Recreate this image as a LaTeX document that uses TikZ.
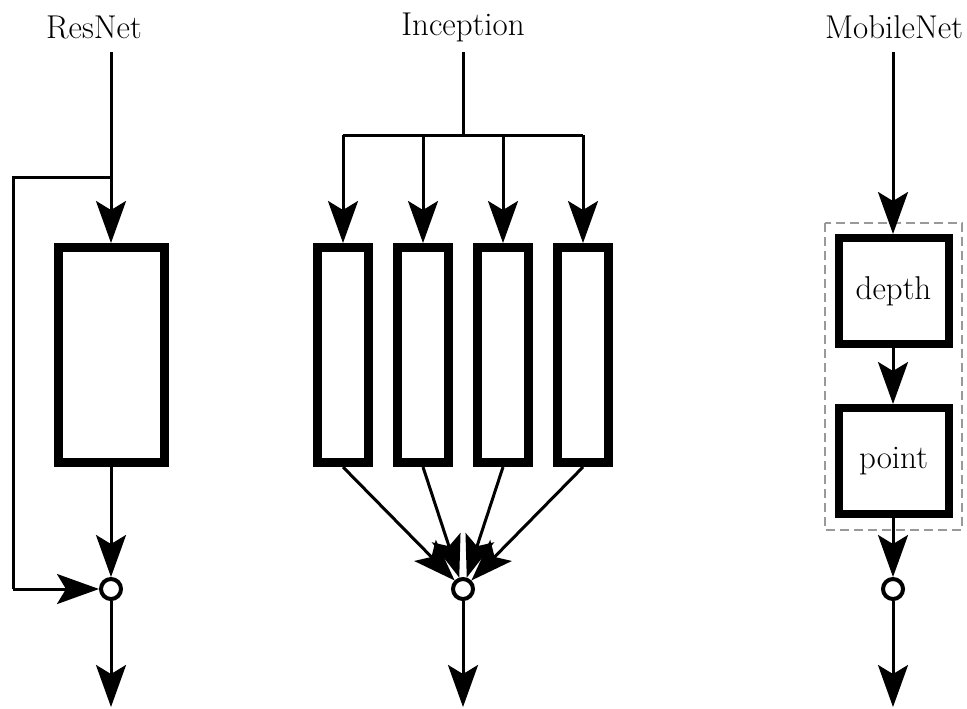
\documentclass[tikz,border=0pt]{standalone}
\usetikzlibrary{arrows.meta}
\begin{document}
\begin{tikzpicture}[x=0.5pt,y=-0.5pt,
  font=\fontsize{16.5pt}{19pt}\selectfont,
  conn/.style={line width=1.5pt,-{Stealth[length=21pt,width=15pt,inset=4.5pt]}},
  plain/.style={line width=1.5pt},
  bigbox/.style={draw,line width=4.5pt,inner sep=0pt,minimum width=53pt,minimum height=107.5pt},
  thinbox/.style={draw,line width=4.5pt,inner sep=0pt,minimum width=25.5pt,minimum height=107.5pt},
  opbox/.style={draw,line width=4pt,inner sep=0pt,minimum width=55pt,minimum height=53pt},
  sumnode/.style={draw,circle,fill=white,line width=2pt,inner sep=0pt,minimum size=10pt},
  groupbox/.style={draw=black!40,line width=1pt,dash pattern=on 4.5pt off 2.5pt}]
\useasboundingbox (0,0) rectangle (967,708);

% ---------- ResNet ----------
\node (lr) at (94,27) {ResNet};
\coordinate (rtop) at (111,52);
\coordinate (rsplit) at (111,177);
\coordinate (rleft) at (13,177);
\coordinate (rlow) at (13,589);
\node[bigbox] (rbox) at (111.5,355) {};
\node[sumnode] (rsum) at (111,589) {};
\coordinate (rend) at (111,707);
\draw[conn] (rtop) -- (rtop |- rbox.north);
\draw[plain] (rsplit) -- (rleft) -- (rlow);
\draw[conn] (rlow) -- (rsum.west);
\draw[conn] (rbox.south -| rsum) -- (rsum.north);
\draw[conn] (rsum.south) -- (rend);

% ---------- Inception ----------
\node (li) at (463,27) {Inception};
\coordinate (itop) at (463,52);
\coordinate (ibar) at (463,135);
\coordinate (ia) at (343,135);
\coordinate (id) at (583,135);
\node[thinbox] (ib1) at (343,355) {};
\node[thinbox] (ib2) at (423,355) {};
\node[thinbox] (ib3) at (503,355) {};
\node[thinbox] (ib4) at (583,355) {};
\node[sumnode] (isum) at (463,589) {};
\coordinate (iend) at (463,707);
\draw[plain] (itop) -- (ibar);
\draw[plain] (ia) -- (id);
\foreach \b in {ib1,ib2,ib3,ib4}{
  \draw[conn] (\b.north |- ibar) -- (\b.north);
  \draw[conn] (\b.south) -- (isum);
}
\draw[conn] (isum.south) -- (iend);

% ---------- MobileNet ----------
\node (lm) at (894,27) {MobileNet};
\coordinate (mtop) at (893,52);
\draw[groupbox] (825,223) rectangle (962,530);
\node[opbox] (mdepth) at (893.5,291) {depth};
\node[opbox] (mpoint) at (893.5,461) {point};
\node[sumnode] (msum) at (893,589) {};
\coordinate (mend) at (893,707);
\draw[conn] (mtop) -- (mtop |- mdepth.north);
\draw[conn] (mdepth.south -| msum) -- (mpoint.north -| msum);
\draw[conn] (mpoint.south -| msum) -- (msum.north);
\draw[conn] (msum.south) -- (mend);
\end{tikzpicture}
\end{document}
